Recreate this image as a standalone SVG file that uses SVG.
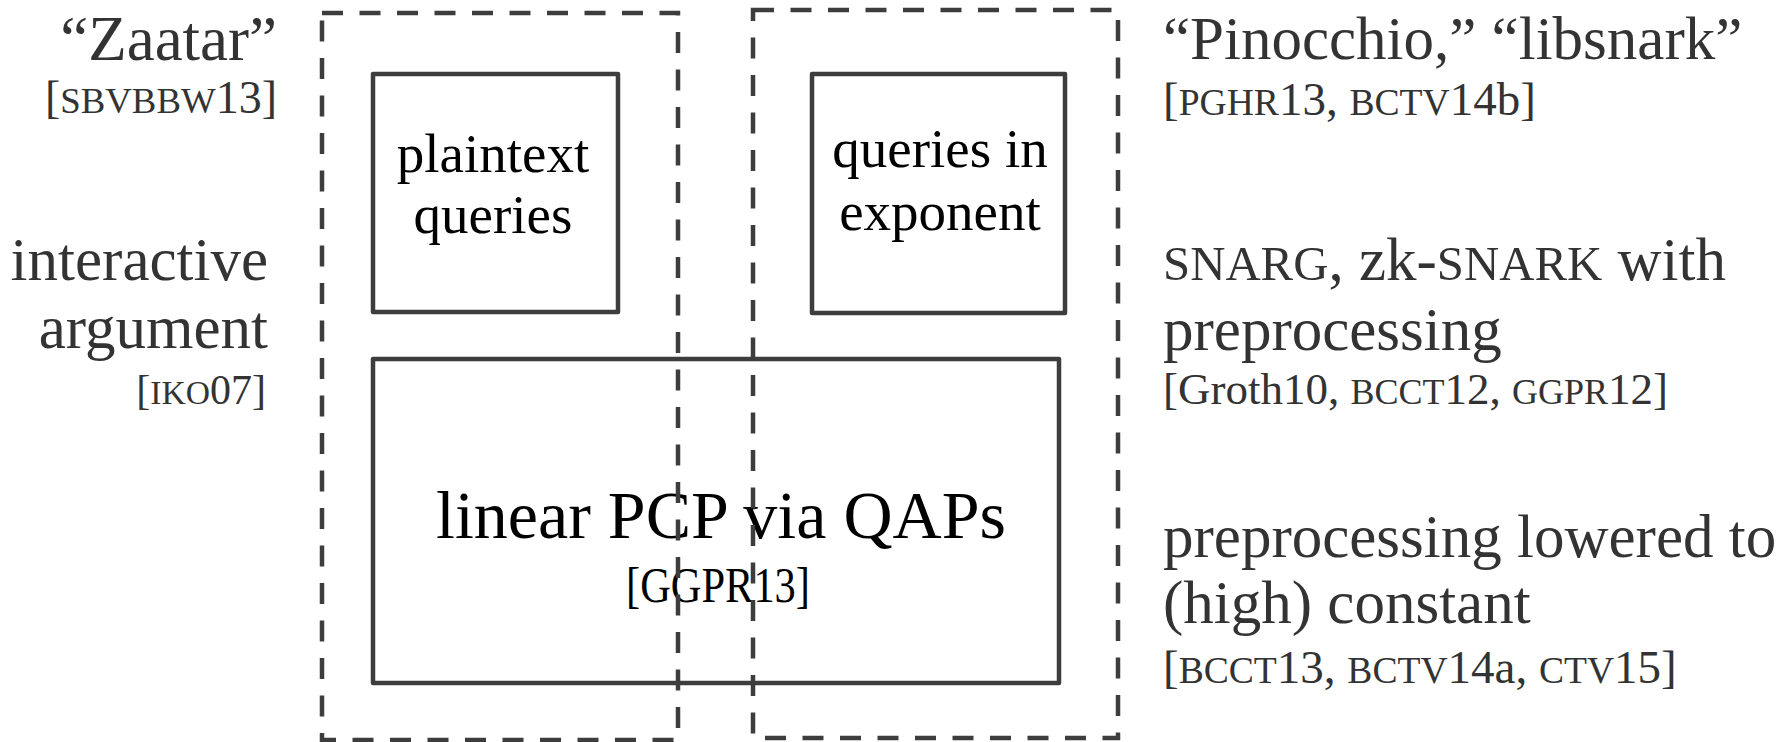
<svg xmlns="http://www.w3.org/2000/svg" width="1785" height="742" viewBox="0 0 1785 742">
  <style>
    .side { font-family: "Liberation Serif", "Times New Roman", serif; fill: #333333; font-size: 61px; }
    .cite { font-family: "Liberation Serif", "Times New Roman", serif; fill: #333333; font-size: 47px; }
    .sc { font-size: 0.8em; }
    .end { text-anchor: end; }
    .box { fill: none; stroke: #3d3d3d; stroke-width: 4.5; stroke-linejoin: round; }
    .group { fill: none; stroke: #3d3d3d; stroke-width: 4.5; stroke-dasharray: 21 16.5; }
    .label { font-family: "Liberation Serif", "Times New Roman", serif; fill: #000000; text-anchor: middle; font-size: 55px; }
  </style>

  <rect width="1785" height="742" fill="#ffffff"/>

  <!-- inner technique boxes -->
  <g id="plaintext-queries">
    <rect class="box" x="373" y="74" width="245" height="238"/>
    <text class="label" x="493" y="172">plaintext</text>
    <text class="label" x="493" y="233">queries</text>
  </g>

  <g id="queries-in-exponent">
    <rect class="box" x="812" y="74" width="253" height="239"/>
    <text class="label" x="940" y="167">queries in</text>
    <text class="label" x="940" y="230">exponent</text>
  </g>

  <g id="linear-pcp">
    <rect class="box" x="373" y="359" width="686" height="324"/>
    <text class="label" x="721" y="538" style="font-size:68px">linear PCP via QAPs</text>
    <text class="label" x="718" y="602" style="font-size:50px" textLength="184" lengthAdjust="spacingAndGlyphs">[GGPR13]</text>
  </g>

  <!-- dashed groupings, drawn over the boxes -->
  <g id="group-zaatar">
    <rect class="group" x="322" y="13" width="356" height="727"/>
  </g>

  <g id="group-pinocchio">
    <rect class="group" x="753" y="10" width="365" height="728"/>
  </g>

  <!-- left annotations -->
  <g id="label-zaatar">
    <text class="side end" x="277" y="60" style="font-size:63px">“Zaatar”</text>
    <text class="cite end" x="277" y="113" style="font-size:46px">[<tspan class="sc">SBVBBW</tspan>13]</text>
  </g>

  <g id="label-interactive">
    <text class="side end" x="268" y="280">interactive</text>
    <text class="side end" x="268" y="348">argument</text>
    <text class="cite end" x="266" y="404" style="font-size:42px">[<tspan class="sc">IKO</tspan>07]</text>
  </g>

  <!-- right annotations -->
  <g id="label-pinocchio">
    <text class="side" x="1163" y="59">“Pinocchio,” “libsnark”</text>
    <text class="cite" x="1163" y="115">[<tspan class="sc">PGHR</tspan>13, <tspan class="sc">BCTV</tspan>14b]</text>
  </g>

  <g id="label-snarg">
    <text class="side" x="1163" y="280"><tspan class="sc">SNARG</tspan>, zk-<tspan class="sc">SNARK</tspan> with</text>
    <text class="side" x="1163" y="350">preprocessing</text>
    <text class="cite" x="1163" y="404" style="font-size:45px">[Groth10, <tspan class="sc">BCCT</tspan>12, <tspan class="sc">GGPR</tspan>12]</text>
  </g>

  <g id="label-constant">
    <text class="side" x="1163" y="557">preprocessing lowered to</text>
    <text class="side" x="1163" y="623">(high) constant</text>
    <text class="cite" x="1163" y="683">[<tspan class="sc">BCCT</tspan>13, <tspan class="sc">BCTV</tspan>14a, <tspan class="sc">CTV</tspan>15]</text>
  </g>
</svg>
